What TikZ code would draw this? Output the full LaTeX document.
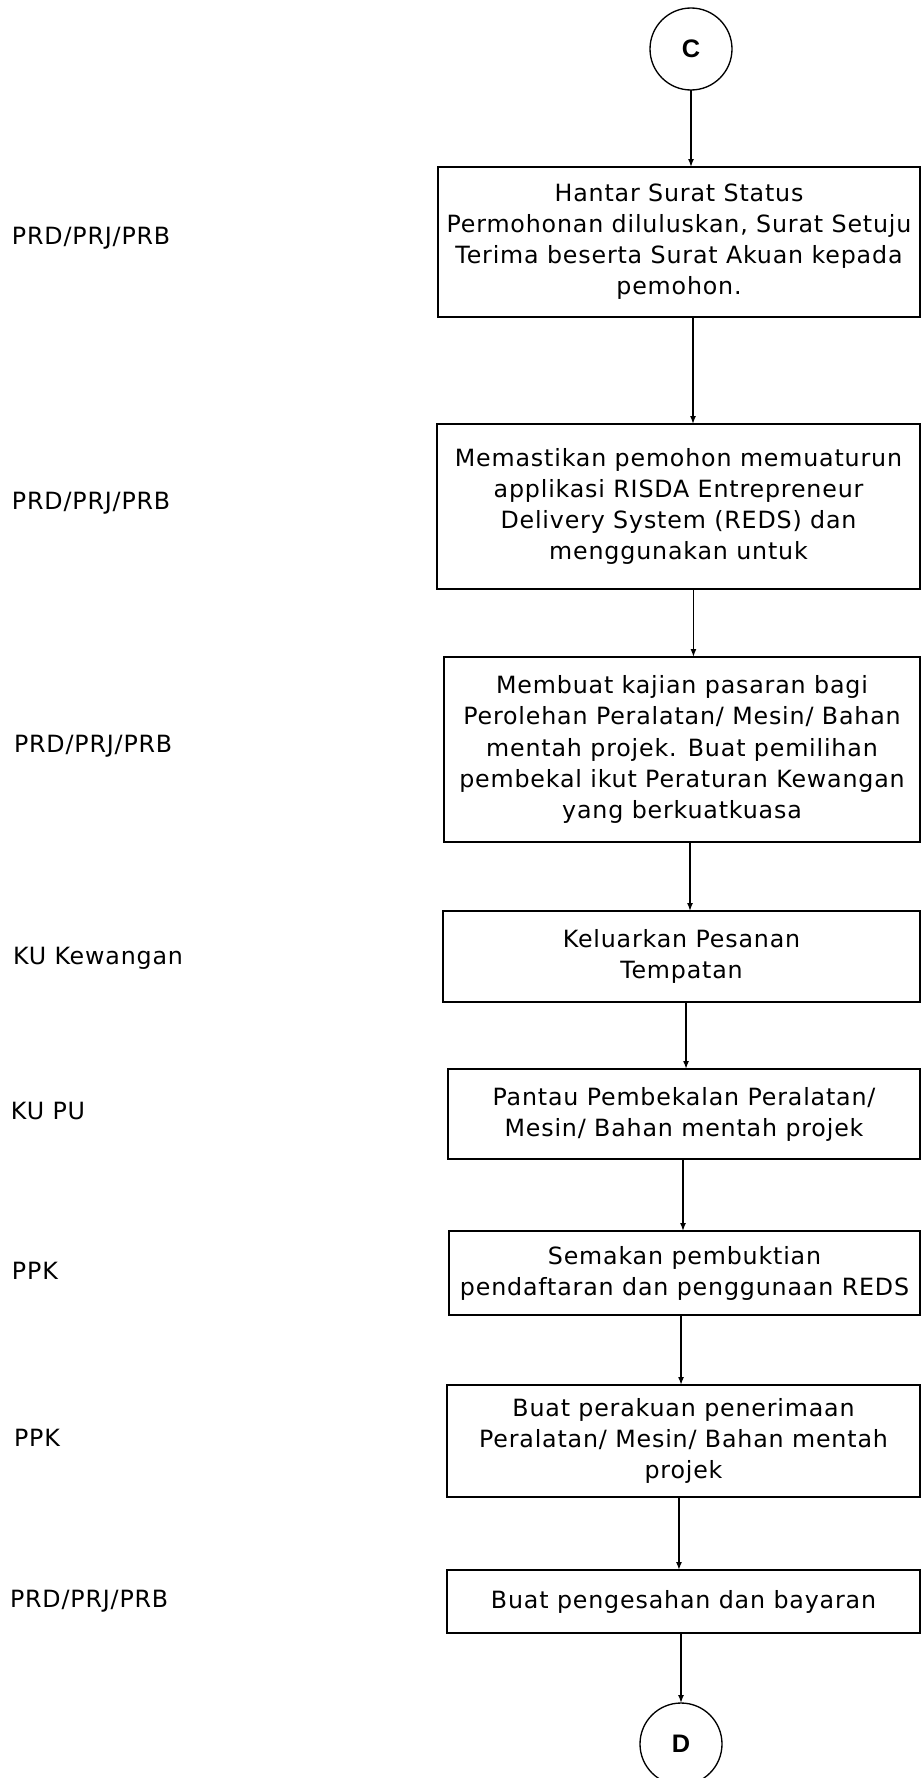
\documentclass[tikz,border=0pt]{standalone}
\usepackage{fontspec}
\setmainfont{DejaVu Sans}[LetterSpace=3.5]
\newfontfamily\circfont{Liberation Sans}
\usetikzlibrary{arrows.meta}
\begin{document}
\begin{tikzpicture}[x=0.75pt,y=-0.75pt,
  every node/.style={inner sep=0pt,outer sep=0pt},
  stepbox/.style={draw=black,line width=1.1pt,rectangle,align=center,
    font=\fontsize{17.8}{23.3}\selectfont},
  conn/.style={draw=black,line width=1pt,circle,minimum size=61.5pt,
    font=\circfont\bfseries\fontsize{19}{22}\selectfont},
  role/.style={anchor=base west,font=\fontsize{17.8}{20}\selectfont},
  arr/.style={line width=1.1pt,-{Latex[length=6pt,width=4.5pt]}}]
\useasboundingbox (0,0) rectangle (921,1778);

\node[conn] (c) at (691,49) {C};

\node[stepbox,minimum width=361.5pt,minimum height=112.5pt] (b1) at (679,242)
  {Hantar Surat Status\\Permohonan diluluskan, Surat Setuju\\Terima beserta Surat Akuan kepada\\pemohon.};
\node[stepbox,minimum width=362.25pt,minimum height=123.75pt] (b2) at (678.5,506.5)
  {Memastikan pemohon memuaturun\\applikasi RISDA Entrepreneur\\Delivery System (REDS) dan\\menggunakan untuk};
\node[stepbox,minimum width=357pt,minimum height=138.75pt] (b3) at (682,749.5)
  {Membuat kajian pasaran bagi\\Perolehan Peralatan/ Mesin/ Bahan\\mentah projek. Buat pemilihan\\pembekal ikut Peraturan Kewangan\\yang berkuatkuasa};
\node[stepbox,minimum width=357.75pt,minimum height=68.25pt] (b4) at (681.5,956.5)
  {Keluarkan Pesanan\\Tempatan};
\node[stepbox,minimum width=354pt,minimum height=67.5pt] (b5) at (684,1114)
  {Pantau Pembekalan Peralatan/\\Mesin/ Bahan mentah projek};
\node[stepbox,minimum width=353.25pt,minimum height=63pt] (b6) at (684.5,1273)
  {Semakan pembuktian\\pendaftaran dan penggunaan REDS};
\node[stepbox,minimum width=354.75pt,minimum height=84pt] (b7) at (683.5,1441)
  {Buat perakuan penerimaan\\Peralatan/ Mesin/ Bahan mentah\\projek};
\node[stepbox,minimum width=354.75pt,minimum height=47.25pt] (b8) at (683.5,1601.5)
  {Buat pengesahan dan bayaran};

\node[conn] (d) at (681,1744) {D};

\draw[arr] (c.south) -- (c.south |- b1.north);
\draw[arr] ([xshift=10.5pt]b1.south) -- ([xshift=10.5pt]b1.south |- b2.north);
\draw[arr] ([xshift=11.2pt]b2.south) -- ([xshift=11.2pt]b2.south |- b3.north);
\draw[arr] ([xshift=6pt]b3.south) -- ([xshift=6pt]b3.south |- b4.north);
\draw[arr] ([xshift=3.4pt]b4.south) -- ([xshift=3.4pt]b4.south |- b5.north);
\draw[arr] ([xshift=-0.75pt]b5.south) -- ([xshift=-0.75pt]b5.south |- b6.north);
\draw[arr] ([xshift=-2.6pt]b6.south) -- ([xshift=-2.6pt]b6.south |- b7.north);
\draw[arr] ([xshift=-3.4pt]b7.south) -- ([xshift=-3.4pt]b7.south |- b8.north);
\draw[arr] (d.north |- b8.south) -- (d.north);

\node[role] (r1) at (12,244) {PRD/PRJ/PRB};
\node[role] (r2) at (12,509) {PRD/PRJ/PRB};
\node[role] (r3) at (14,752) {PRD/PRJ/PRB};
\node[role] (r4) at (13,964) {KU Kewangan};
\node[role] (r5) at (11,1119) {KU PU};
\node[role] (r6) at (12,1279) {PPK};
\node[role] (r7) at (14,1446) {PPK};
\node[role] (r8) at (10,1607) {PRD/PRJ/PRB};
\end{tikzpicture}
\end{document}
